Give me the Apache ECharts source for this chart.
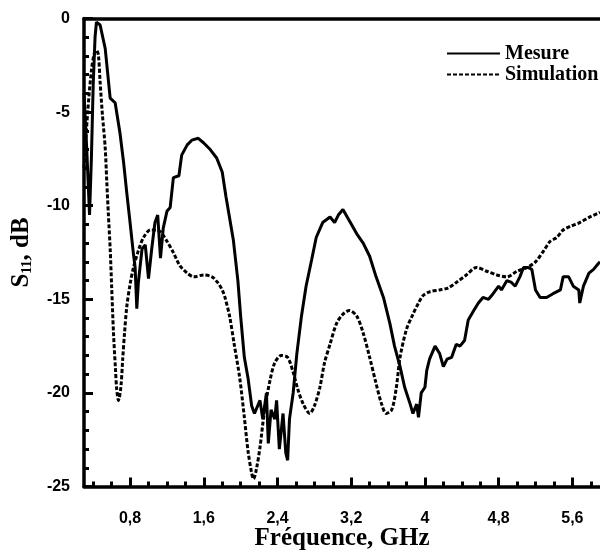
<!DOCTYPE html>
<html><head><meta charset="utf-8">
<script src="https://cdn.jsdelivr.net/npm/echarts@6/dist/echarts.min.js"></script>
<style>html,body{margin:0;padding:0;background:#fff}#c{width:600px;height:551px}</style>
</head><body><div id="c"></div>
<script>
const freqMesure = [0.30,0.33,0.36,0.38,0.40,0.42,0.435,0.475,0.53,0.584,0.638,0.69,0.73,0.764,0.80,0.837,0.855,0.873,0.89,0.93,0.965,1.00,1.035,1.07,1.10,1.13,1.16,1.20,1.235,1.27,1.33,1.36,1.42,1.47,1.54,1.60,1.67,1.74,1.80,1.84,1.92,1.97,2.00,2.04,2.08,2.12,2.15,2.21,2.24,2.28,2.30,2.33,2.37,2.39,2.42,2.46,2.49,2.51,2.53,2.57,2.61,2.66,2.71,2.77,2.82,2.89,2.97,3.02,3.06,3.11,3.18,3.26,3.33,3.40,3.47,3.55,3.62,3.67,3.73,3.78,3.84,3.87,3.91,3.93,3.96,4.00,4.02,4.05,4.11,4.16,4.20,4.24,4.29,4.34,4.38,4.43,4.47,4.53,4.58,4.63,4.69,4.74,4.80,4.83,4.89,4.94,4.98,5.03,5.07,5.12,5.16,5.20,5.25,5.32,5.39,5.47,5.50,5.56,5.61,5.67,5.68,5.72,5.78,5.83,5.88,5.90];
const s11Mesure = [-4.0,-7.0,-10.5,-7.5,-3.5,-1.0,-0.2,-0.35,-1.6,-4.25,-4.5,-6.1,-7.7,-9.3,-10.9,-12.6,-13.3,-15.5,-14.1,-12.3,-12.1,-13.9,-12.3,-10.9,-10.5,-12.8,-11.2,-10.3,-10.1,-8.5,-8.4,-7.3,-6.75,-6.5,-6.4,-6.65,-7.0,-7.45,-8.2,-9.5,-11.8,-14.0,-15.9,-18.1,-19.2,-20.7,-21.1,-20.4,-21.4,-20.0,-22.7,-20.9,-21.4,-20.4,-23.0,-21.1,-23.2,-23.6,-21.4,-20.0,-17.9,-15.9,-14.3,-12.9,-11.7,-10.9,-10.6,-10.9,-10.5,-10.2,-10.8,-11.5,-12.0,-12.7,-13.8,-14.9,-16.3,-17.5,-18.6,-19.7,-20.6,-21.1,-20.6,-21.3,-20.0,-19.7,-18.8,-18.2,-17.5,-17.9,-18.6,-18.2,-18.1,-17.4,-17.5,-17.2,-16.1,-15.6,-15.2,-14.9,-15.0,-14.7,-14.3,-14.5,-14.0,-14.1,-14.3,-13.8,-13.3,-13.3,-13.4,-14.5,-14.9,-14.9,-14.7,-14.5,-13.8,-13.8,-14.3,-14.5,-15.2,-14.3,-13.6,-13.4,-13.1,-13.0];
const freqSim = [0.30,0.34,0.38,0.41,0.435,0.456,0.475,0.50,0.53,0.547,0.565,0.584,0.60,0.62,0.64,0.655,0.674,0.70,0.72,0.74,0.764,0.80,0.837,0.89,0.946,1.02,1.08,1.13,1.20,1.27,1.34,1.42,1.49,1.60,1.69,1.75,1.80,1.83,1.88,1.93,1.99,2.04,2.08,2.12,2.14,2.17,2.21,2.26,2.32,2.37,2.44,2.51,2.57,2.62,2.68,2.75,2.80,2.86,2.91,2.97,3.04,3.11,3.18,3.26,3.33,3.40,3.47,3.53,3.58,3.64,3.69,3.73,3.80,3.87,3.93,3.98,4.05,4.16,4.25,4.34,4.45,4.56,4.67,4.78,4.89,5.00,5.11,5.20,5.29,5.36,5.43,5.50,5.58,5.68,5.79,5.88,5.90];
const s11Sim = [-8.0,-5.0,-2.8,-1.9,-1.7,-1.95,-3.4,-5.15,-6.9,-8.7,-10.5,-12.3,-14.3,-16.8,-18.6,-19.8,-20.4,-19.7,-18.2,-16.8,-15.4,-14.2,-13.3,-12.4,-11.7,-11.3,-11.3,-11.4,-11.9,-12.5,-13.2,-13.6,-13.8,-13.7,-13.8,-14.1,-14.5,-14.9,-15.9,-17.4,-19.2,-21.3,-23.1,-24.3,-24.6,-24.1,-22.9,-20.9,-19.3,-18.4,-18.0,-18.1,-18.9,-19.8,-20.6,-21.1,-20.7,-19.7,-18.4,-17.4,-16.3,-15.8,-15.6,-15.9,-16.8,-18.1,-19.5,-20.6,-21.1,-20.9,-19.7,-18.1,-16.6,-15.8,-15.2,-14.8,-14.6,-14.5,-14.4,-14.1,-13.7,-13.3,-13.5,-13.7,-13.8,-13.5,-13.3,-13.0,-12.4,-11.9,-11.7,-11.3,-11.1,-10.9,-10.6,-10.4,-10.35];
const xMajorTicks = [0.8,1.6,2.4,3.2,4,4.8,5.6];
const xMinorTicks = [0.4,0.6,1.0,1.2,1.4,1.8,2.0,2.2,2.6,2.8,3.0,3.4,3.6,3.8,4.2,4.4,4.6,5.0,5.2,5.4,5.8];
const seriesNames = ['Mesure','Simulation'];

const chart = echarts.init(document.getElementById('c'), null, {renderer:'canvas'});
const sans = 'Liberation Sans, Arial, sans-serif';
const serif = 'Liberation Serif, Times New Roman, serif';
const X_MIN = 0.3, X_MAX = 5.9;
chart.setOption({
  animation: false,
  backgroundColor: '#fff',
  grid: {left: 84, right: 0, top: 18.5, bottom: 64.5, containLabel: false, outerBoundsMode: 'none'},
  legend: {
    data: seriesNames, orient: 'vertical', left: 446, top: 43, itemWidth: 53, itemHeight: 14, itemGap: 0, padding: 0,
    itemStyle: {color: 'transparent', borderColor: 'transparent', borderWidth: 0, opacity: 0},
    textStyle: {fontFamily: serif, fontWeight: 'bold', fontSize: 20, color: '#000', lineHeight: 21}
  },
  xAxis: [
    {type: 'value', min: X_MIN, max: X_MAX, position: 'bottom',
     axisLine: {onZero: false, lineStyle: {color: '#000', width: 3.5}},
     axisTick: {inside: true, length: 9, customValues: xMajorTicks, lineStyle: {color: '#000', width: 3}},
     axisLabel: {customValues: xMajorTicks, formatter: v => String(v).replace('.', ','), fontFamily: sans, fontWeight: 'bold', fontSize: 16, color: '#000', margin: 24},
     splitLine: {show: false},
     name: 'Fréquence, GHz', nameLocation: 'middle', nameGap: 40, nameMoveOverlap: false,
     nameTextStyle: {fontFamily: serif, fontWeight: 'bold', fontSize: 25, color: '#000'}},
    {type: 'value', min: X_MIN, max: X_MAX, position: 'bottom', gridIndex: 0,
     axisLine: {show: false, onZero: false},
     axisTick: {inside: true, length: 5, customValues: xMinorTicks, lineStyle: {color: '#000', width: 3}},
     axisLabel: {show: false}, splitLine: {show: false}},
    {type: 'value', min: X_MIN, max: X_MAX, position: 'top', gridIndex: 0,
     axisLine: {onZero: false, lineStyle: {color: '#000', width: 3.5}},
     axisTick: {show: false}, axisLabel: {show: false}, splitLine: {show: false}}
  ],
  yAxis: {
    type: 'value', min: -25, max: 0, interval: 5,
    axisLine: {show: true, onZero: false, lineStyle: {color: '#000', width: 3.5}},
    axisTick: {show: true, inside: true, length: 9, lineStyle: {color: '#000', width: 3}},
    minorTick: {show: true, splitNumber: 5, length: 5, lineStyle: {color: '#000', width: 3}},
    axisLabel: {fontFamily: sans, fontWeight: 'bold', fontSize: 16, color: '#000', margin: 14},
    splitLine: {show: false}, minorSplitLine: {show: false},
    name: 'S{sub|11}, dB', nameLocation: 'middle', nameGap: 50, nameMoveOverlap: false,
    nameTextStyle: {fontFamily: serif, fontWeight: 'bold', fontSize: 25, color: '#000',
      rich: {sub: {fontFamily: serif, fontWeight: 'bold', fontSize: 14, color: '#000', verticalAlign: 'bottom', padding: [10,0,0,0]}}}
  },
  series: [
    {name: seriesNames[0], type: 'line', xAxisIndex: 0, symbol: 'none', showSymbol: false,
     data: freqMesure.map((f, i) => [f, s11Mesure[i]]),
     lineStyle: {color: '#000', width: 3}, itemStyle: {color: '#000'}, z: 3},
    {name: seriesNames[1], type: 'line', xAxisIndex: 0, symbol: 'none', showSymbol: false, smooth: 0.3,
     data: freqSim.map((f, i) => [f, s11Sim[i]]),
     lineStyle: {color: '#000', width: 3, type: [4, 2]}, itemStyle: {color: '#000'}, z: 2}
  ]
});
</script>
</body></html>
